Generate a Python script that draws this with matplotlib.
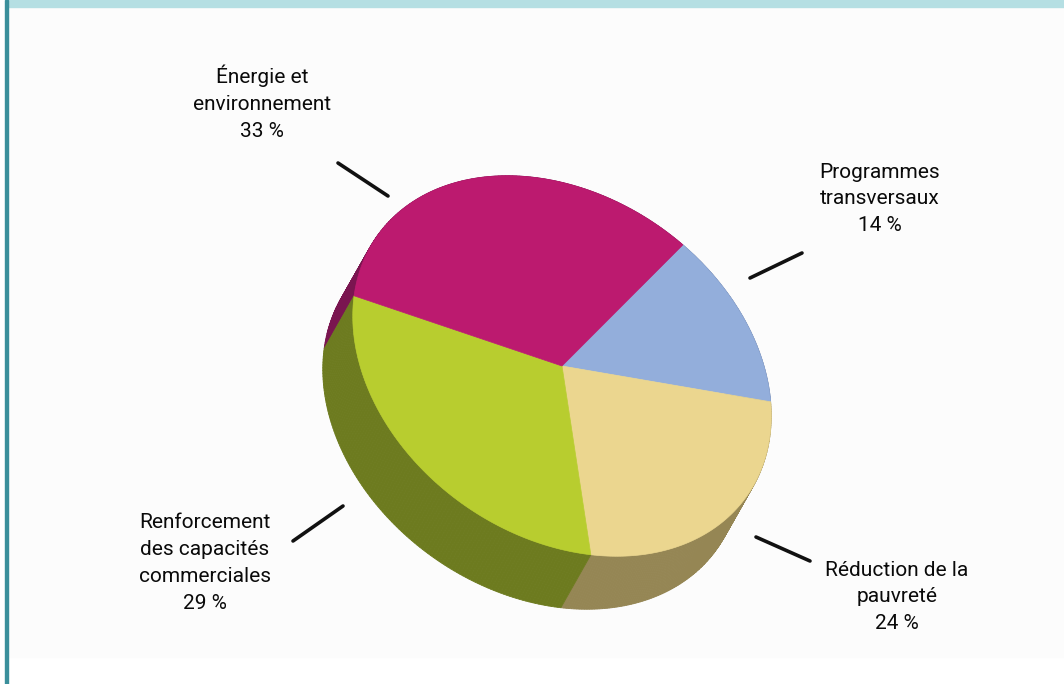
import numpy as np
import matplotlib.pyplot as plt
from matplotlib.patches import Polygon, Rectangle

labels = ["Programmes\ntransversaux\n14 %", "Réduction de la\npauvreté\n24 %",
          "Renforcement\ndes capacités\ncommerciales\n29 %", "Énergie et\nenvironnement\n33 %"]
shares = [14, 24, 29, 33]
top_colors = ["#93aedb", "#ebd68f", "#b8cd2f", "#bc1a6f"]
side_colors = ["#5f7299", "#958654", "#6d7b1f", "#7a1550"]

W, H = 1064, 684
fig = plt.figure(figsize=(W / 100, H / 100), dpi=100)
ax = fig.add_axes([0, 0, 1, 1])
ax.set_xlim(0, W)
ax.set_ylim(H, 0)
ax.axis("off")

# frame
ax.add_patch(Rectangle((8, 7), W - 8, 650, color="#fcfcfc", zorder=0))
ax.add_patch(Rectangle((8, 0), W - 8, 7, color="#b5dfe3", zorder=1))
ax.add_patch(Rectangle((5, 0), 3, H, color="#3a8f9b", zorder=1))

# tilted pie geometry (pixel space)
cx, cy = 562, 366
a, b = 226, 170
tilt = np.deg2rad(35)
u = np.array([np.cos(tilt), np.sin(tilt)])
v = np.array([-np.sin(tilt), np.cos(tilt)])
offset = np.array([-30, 53])
start = -82.5


def pt(t):
    return np.array([cx, cy]) + a * np.cos(t) * u + b * np.sin(t) * v


bounds = start + 360 * np.concatenate([[0], np.cumsum(shares)]) / sum(shares)

# side quads, back to front
quads = []
for i in range(len(shares)):
    ts = np.deg2rad(np.linspace(bounds[i], bounds[i + 1], 120))
    for t0, t1 in zip(ts[:-1], ts[1:]):
        p0, p1 = pt(t0), pt(t1)
        tm = (t0 + t1) / 2
        normal = np.cos(tm) * u * b + np.sin(tm) * v * a
        depth = np.dot(normal, offset)
        quads.append((depth, [p0, p1, p1 + offset, p0 + offset], side_colors[i]))
quads.sort(key=lambda q: q[0])
for _, poly, col in quads:
    ax.add_patch(Polygon(poly, closed=True, facecolor=col, edgecolor=col, lw=0.6, zorder=2))

# top faces
for i in range(len(shares)):
    ts = np.deg2rad(np.linspace(bounds[i], bounds[i + 1], 200))
    pts = [np.array([cx, cy])] + [pt(t) for t in ts]
    ax.add_patch(Polygon(pts, closed=True, facecolor=top_colors[i], edgecolor=top_colors[i],
                         lw=0.5, zorder=3))

# labels and leader lines
label_pos = [(880, 199), (897, 597), (205, 563), (262, 103)]
leaders = [((750, 278), (802, 253)), ((756, 537), (810, 561)),
           ((293, 541), (343, 506)), ((338, 163), (388, 196))]
font = ["Roboto", "DejaVu Sans"]
for text, (x, y), (p, q) in zip(labels, label_pos, leaders):
    ax.text(x, y, text, ha="center", va="center", fontsize=15, family=font,
            linespacing=1.52, color="#0a0a0a", zorder=5)
    ax.plot([p[0], q[0]], [p[1], q[1]], color="#111111", lw=2.6, solid_capstyle="round", zorder=5)

fig.savefig("out.png", dpi=100)
